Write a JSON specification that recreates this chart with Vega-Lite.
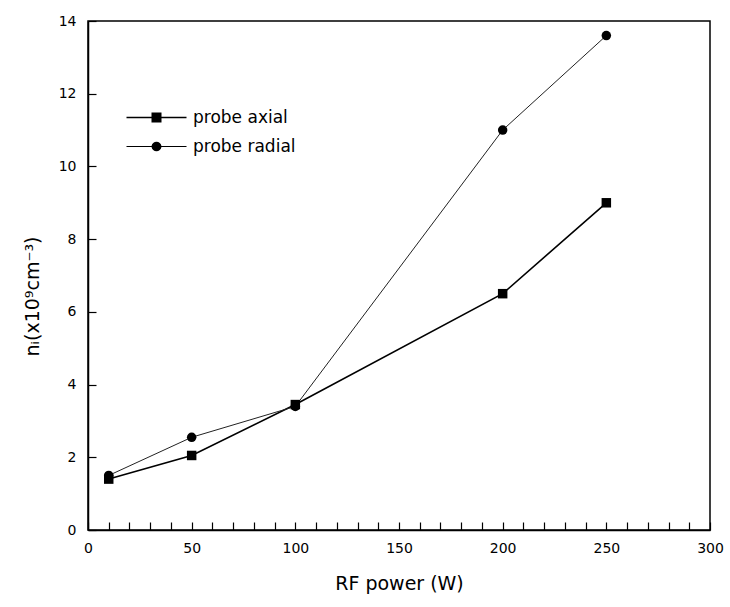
{
  "$schema": "https://vega.github.io/schema/vega-lite/v6.json",
  "width": 622,
  "height": 509,
  "autosize": {"type": "none"},
  "padding": {"left": 88, "top": 21, "right": 20, "bottom": 77},
  "background": "white",
  "config": {
    "view": {"stroke": "black", "strokeWidth": 1.5},
    "font": "DejaVu Sans",
    "axis": {
      "domainColor": "black",
      "domainWidth": 1.5,
      "tickColor": "black",
      "tickWidth": 1.2,
      "labelColor": "black",
      "titleColor": "black",
      "labelFont": "DejaVu Sans",
      "titleFont": "DejaVu Sans",
      "labelFontSize": 14,
      "titleFontSize": 19,
      "titleFontWeight": "normal",
      "grid": false
    }
  },
  "data": {
    "values": [
      {"power": 10, "n": 1.4, "series": "probe axial"},
      {"power": 50, "n": 2.05, "series": "probe axial"},
      {"power": 100, "n": 3.45, "series": "probe axial"},
      {"power": 200, "n": 6.5, "series": "probe axial"},
      {"power": 250, "n": 9.0, "series": "probe axial"},
      {"power": 10, "n": 1.5, "series": "probe radial"},
      {"power": 50, "n": 2.55, "series": "probe radial"},
      {"power": 100, "n": 3.4, "series": "probe radial"},
      {"power": 200, "n": 11.0, "series": "probe radial"},
      {"power": 250, "n": 13.6, "series": "probe radial"}
    ]
  },
  "encoding": {
    "x": {
      "field": "power",
      "type": "quantitative",
      "scale": {"domain": [0, 300], "nice": false},
      "axis": {
        "title": "RF power (W)",
        "values": [0,10,20,30,40,50,60,70,80,90,100,110,120,130,140,150,160,170,180,190,200,210,220,230,240,250,260,270,280,290,300],
        "labelExpr": "datum.value % 50 === 0 ? datum.label : ''",
        "tickSize": -8,
        "labelPadding": 19,
        "titlePadding": 19,
        "labelFlush": false,
        "labelOverlap": false,
        "encode": {"ticks": {"update": {"y2": {"signal": "datum.value % 50 === 0 ? -8 : -4"}}}}
      }
    },
    "y": {
      "field": "n",
      "type": "quantitative",
      "scale": {"domain": [0, 14], "nice": false},
      "axis": {
        "title": "nᵢ(x10⁹cm⁻³)",
        "values": [0,2,4,6,8,10,12,14],
        "tickSize": -8,
        "labelPadding": 20,
        "titlePadding": 16,
        "titleY": 275
      }
    }
  },
  "layer": [
    {
      "transform": [{"filter": "datum.series === 'probe axial'"}],
      "mark": {"type": "line", "color": "black", "strokeWidth": 1.6}
    },
    {
      "transform": [{"filter": "datum.series === 'probe radial'"}],
      "mark": {"type": "line", "color": "#222", "strokeWidth": 1}
    },
    {
      "transform": [{"filter": "datum.series === 'probe axial'"}],
      "mark": {"type": "point", "shape": "square", "filled": true, "color": "black", "opacity": 1, "size": 90}
    },
    {
      "transform": [{"filter": "datum.series === 'probe radial'"}],
      "mark": {"type": "point", "shape": "circle", "filled": true, "color": "black", "opacity": 1, "size": 90}
    },
    {
      "mark": {"type": "point", "filled": true, "color": "black", "size": 0},
      "encoding": {
        "shape": {
          "field": "series",
          "type": "nominal",
          "scale": {
            "domain": ["probe axial", "probe radial"],
            "range": ["M-6,-0.15H-1V-1H1V-0.15H6V0.15H1V1H-1V0.15H-6Z", "M-6,-0.1H-0.99A1,1,0,0,1,0.99,-0.1H6V0.1H0.99A1,1,0,0,1,-0.99,0.1H-6Z"]
          },
          "legend": {
            "title": null,
            "orient": "none",
            "legendX": 60,
            "legendY": 88,
            "labelFontSize": 17,
            "labelFont": "DejaVu Sans",
            "labelColor": "black",
            "labelOffset": 28,
            "symbolSize": 100,
            "symbolFillColor": "black",
            "symbolOpacity": 1,
            "rowPadding": 11
          }
        }
      }
    }
  ]
}
